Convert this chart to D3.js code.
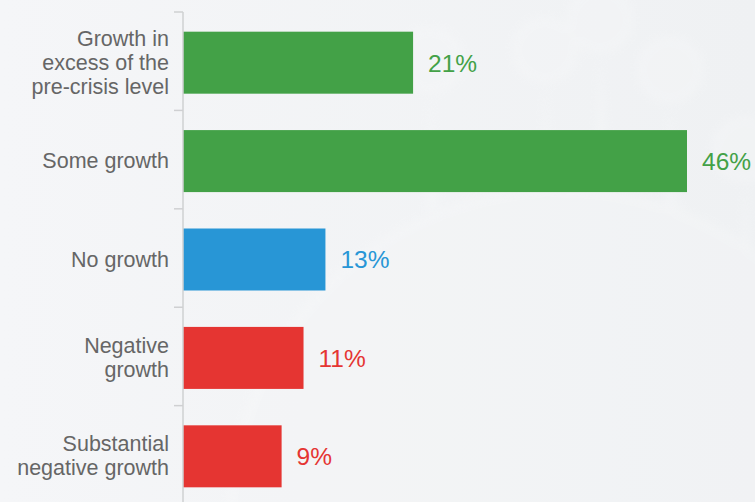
<!DOCTYPE html>
<html>
<head>
<meta charset="utf-8">
<script src="https://cdn.jsdelivr.net/npm/d3@7"></script>
<style>
  html, body { margin: 0; padding: 0; background: #f3f4f6; }
  svg { display: block; }
</style>
</head>
<body>
<svg id="chart" width="755" height="502"></svg>
<script>
// Expected economic growth outlook, share of respondents
const categories = [
  ["Growth in", "excess of the", "pre-crisis level"],
  ["Some growth"],
  ["No growth"],
  ["Negative", "growth"],
  ["Substantial", "negative growth"]
];
const values = [21, 46, 13, 11, 9];
const barColors = ["#43a147", "#43a147", "#2896d6", "#e53532", "#e53532"];
const valueLabels = ["21%", "46%", "13%", "11%", "9%"];

const W = 755, H = 502;
const axisX = 183;
const svg = d3.select("#chart");

// soft background with a faint virus silhouette
const defs = svg.append("defs");
const bg = defs.append("linearGradient").attr("id", "bg").attr("x1", 0).attr("x2", 1).attr("y1", 0).attr("y2", 0);
bg.append("stop").attr("offset", "0%").attr("stop-color", "#f5f6f8");
bg.append("stop").attr("offset", "100%").attr("stop-color", "#eff1f3");
const blur = defs.append("filter").attr("id", "soft");
blur.append("feGaussianBlur").attr("stdDeviation", 4);
svg.append("rect").attr("width", W).attr("height", H).attr("fill", "url(#bg)");

const deco = svg.append("g").attr("filter", "url(#soft)").attr("opacity", 0.3);
const spikes = [[430, 60], [545, 50], [600, 20], [670, 70], [745, 150]];
spikes.forEach(([sx, sy]) => {
  deco.append("path")
    .attr("d", `M${sx},${sy + 30} L${sx - 6},${sy + 150} L${sx + 10},${sy + 150} Z`)
    .attr("fill", "#f8f9fa");
  deco.append("circle").attr("cx", sx).attr("cy", sy).attr("r", 32)
    .attr("fill", "#f7f8f9").attr("stroke", "#fbfbfc").attr("stroke-width", 3);
});
deco.append("circle").attr("cx", 560).attr("cy", 520).attr("r", 330)
  .attr("fill", "#f6f7f8").attr("stroke", "#fafbfb").attr("stroke-width", 6);

// scales
const y = d3.scaleBand()
  .domain(d3.range(categories.length))
  .range([12, 507])
  .paddingInner(0.37)
  .paddingOuter(0.2);
const x = d3.scaleLinear().domain([0, 46]).range([axisX, 687]);

// bars
svg.append("g").selectAll("rect")
  .data(values)
  .join("rect")
  .attr("x", x(0))
  .attr("y", (d, i) => y(i))
  .attr("width", d => x(d) - x(0))
  .attr("height", y.bandwidth())
  .attr("fill", (d, i) => barColors[i]);

// value labels
svg.append("g").selectAll("text")
  .data(values)
  .join("text")
  .attr("x", d => x(d) + 15)
  .attr("y", (d, i) => y(i) + y.bandwidth() / 2)
  .attr("dy", "0.36em")
  .attr("font-family", "Liberation Sans, Arial, sans-serif")
  .attr("font-size", 24.5)
  .attr("fill", (d, i) => barColors[i])
  .text((d, i) => valueLabels[i]);

// category axis: line plus ticks at band boundaries
const axis = svg.append("g");
axis.append("line")
  .attr("x1", axisX).attr("x2", axisX)
  .attr("y1", y.range()[0]).attr("y2", H)
  .attr("stroke", "#cfd0d2").attr("stroke-width", 1.5);
const step = y.step();
axis.selectAll("line.tick")
  .data(d3.range(categories.length + 1))
  .join("line")
  .attr("class", "tick")
  .attr("x1", axisX - 9).attr("x2", axisX)
  .attr("y1", i => y.range()[0] + i * step)
  .attr("y2", i => y.range()[0] + i * step)
  .attr("stroke", "#cfd0d2").attr("stroke-width", 1.5);

// category labels
const lineH = 24;
const labels = svg.append("g")
  .attr("font-family", "Liberation Sans, Arial, sans-serif")
  .attr("font-size", 21.5)
  .attr("fill", "#666666")
  .attr("text-anchor", "end");
categories.forEach((lines, i) => {
  const cy = y(i) + y.bandwidth() / 2;
  const t = labels.append("text")
    .attr("x", 169)
    .attr("y", cy - (lines.length - 1) / 2 * lineH + 7);
  lines.forEach((ln, j) => {
    t.append("tspan").attr("x", 169).attr("dy", j === 0 ? 0 : lineH).text(ln);
  });
});
</script>
</body>
</html>
